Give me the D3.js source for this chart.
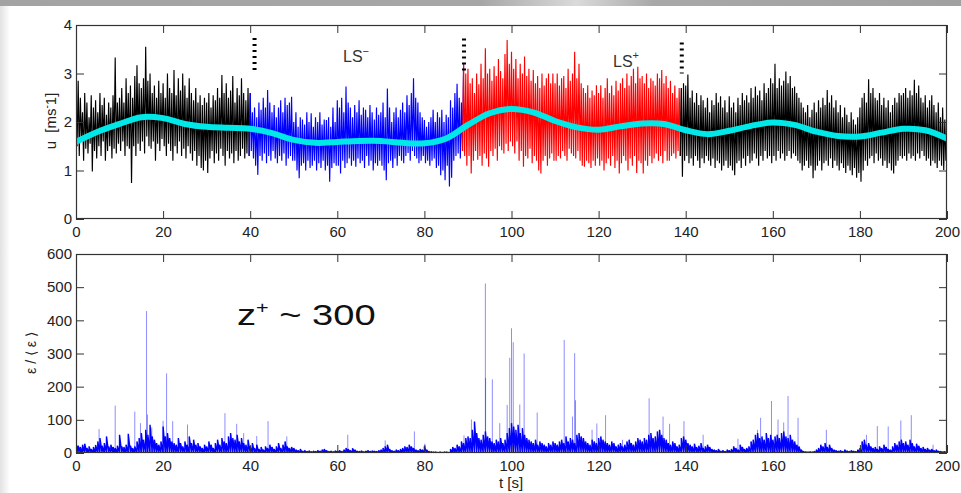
<!DOCTYPE html>
<html><head><meta charset="utf-8">
<script src="https://cdn.jsdelivr.net/npm/d3@7"></script>
<style>html,body{margin:0;padding:0;background:#fff;} svg{display:block;}</style>
</head><body>
<script>
// ---------------- data ----------------
const xTicks = [0,20,40,60,80,100,120,140,160,180,200];
const uTicks = [0,1,2,3,4];
const epsTicks = [0,100,200,300,400,500,600];
const sampleStep = 0.5; // seconds between samples of the envelope arrays

// local maxima of u every 0.5 s (t = 0 ... 199.5)
const uHigh = [
2.3,2.85,2.5,2.2,2.6,2.4,2.1,2.55,2.3,2.45,2.2,2.6,2.35,2.5,2.15,2.4,2.3,2.55,3.33,2.4,
2.5,2.7,2.4,2.9,2.6,2.75,2.5,2.95,3.17,2.8,2.7,2.9,3.55,2.85,3.0,2.6,2.75,2.5,2.85,2.6,
2.8,2.5,3.0,2.7,2.6,3.07,2.55,2.9,2.65,3.0,2.75,2.5,2.9,2.6,2.45,2.7,2.4,2.55,2.35,2.5,
2.4,2.6,2.3,2.55,2.45,2.7,2.5,2.97,2.6,2.8,2.5,2.65,2.95,2.4,2.7,2.55,2.9,2.6,2.45,2.7,
2.6,2.2,2.3,2.1,2.4,2.25,2.5,2.3,2.66,2.4,2.2,2.35,2.1,2.3,2.45,2.2,2.5,2.35,2.4,2.52,
2.0,2.2,1.9,2.1,2.05,1.95,2.2,2.0,2.18,1.9,2.1,2.0,2.2,1.95,2.05,2.04,2.1,1.9,2.3,2.0,
2.45,2.3,2.5,2.2,2.73,2.4,2.3,2.1,2.35,2.2,2.45,2.15,2.3,2.25,2.1,2.35,2.2,2.05,2.3,2.15,
2.2,2.4,2.1,2.69,2.3,2.0,2.2,2.3,2.1,2.25,2.4,2.2,2.55,2.35,2.6,2.9,2.5,2.4,2.2,2.1,
2.04,1.9,2.0,2.1,2.25,2.0,2.2,2.1,2.25,2.0,2.15,2.1,2.45,2.3,2.6,2.79,2.5,2.4,3.2,3.0,
3.1,2.8,2.9,2.6,3.0,2.78,3.2,2.9,3.52,3.0,3.1,2.85,3.15,2.95,3.3,3.05,2.9,3.4,3.69,3.2,
3.45,3.1,3.3,2.9,3.2,3.0,3.35,2.95,3.1,2.85,3.07,2.8,2.95,2.7,3.0,2.75,2.9,3.0,2.8,3.0,
2.8,3.0,2.75,2.9,2.95,2.7,3.1,2.85,3.0,3.45,2.9,3.2,2.8,2.7,2.6,2.76,2.5,2.65,2.55,2.76,
2.6,2.76,2.5,2.7,2.9,2.6,2.75,2.55,2.85,2.65,2.8,2.9,2.7,3.0,2.75,2.95,3.1,2.8,3.14,2.9,
2.95,2.8,3.0,2.7,2.9,2.85,2.75,3.0,2.9,3.07,2.8,2.95,2.7,2.85,2.6,2.75,2.5,2.7,2.7,2.8,
2.75,2.98,2.5,2.65,2.4,2.6,2.35,2.55,2.45,2.3,2.5,2.2,2.45,2.35,2.6,2.4,2.53,2.3,2.45,2.2,
2.53,2.3,2.4,2.2,2.5,2.35,2.6,2.45,2.55,2.4,2.7,2.5,2.73,2.55,2.65,2.45,2.8,2.6,2.7,2.9,
2.8,3.2,2.7,2.9,2.75,2.85,3.04,2.8,2.95,2.7,2.73,2.6,2.5,2.4,2.3,2.2,2.35,2.1,2.25,2.4,
2.2,2.45,2.3,2.5,2.35,2.66,2.4,2.55,2.3,2.45,2.2,2.35,2.1,2.3,2.15,2.0,2.2,2.05,1.95,2.1,
2.3,2.5,2.6,2.4,2.88,2.6,2.7,2.5,2.45,2.6,2.35,2.5,2.3,2.45,2.2,2.35,2.5,2.4,2.6,2.55,
2.6,2.7,2.5,2.65,2.55,2.87,2.6,2.75,2.5,2.4,2.55,2.3,2.45,2.55,2.35,2.2,2.4,2.1,2.3,2.05
];
// local minima of u, 0.25 s after each maximum
const uLow = [
1.5,1.3,1.6,1.2,1.45,1.35,1.55,0.98,1.4,1.25,1.5,1.3,1.6,1.2,1.4,1.5,1.25,1.45,1.35,1.55,
1.4,1.6,1.3,1.5,1.45,0.74,1.5,1.3,1.55,1.4,1.6,1.35,1.7,1.5,1.45,1.6,1.2,1.55,1.4,1.65,
1.5,1.3,1.55,1.4,1.2,1.5,1.35,1.6,1.3,1.45,1.25,1.5,1.35,1.2,1.4,1.1,1.3,1.05,1.0,1.2,
0.95,1.25,1.4,1.15,1.35,1.2,1.45,1.3,1.1,1.4,1.25,1.35,1.15,1.4,1.2,1.3,1.45,1.25,1.35,1.3,
1.4,1.25,1.1,0.91,1.3,1.2,1.35,1.15,1.3,1.2,1.4,1.25,1.15,1.3,1.2,1.35,1.1,1.25,1.3,1.2,
1.2,1.0,0.84,1.1,1.15,1.0,1.2,1.05,1.1,1.2,1.0,1.15,1.05,1.2,1.0,1.1,0.77,1.05,1.15,1.1,
1.1,0.94,1.2,1.05,1.15,1.25,1.1,1.2,1.08,1.25,1.15,1.2,1.05,1.3,1.1,1.2,1.0,1.15,1.1,1.2,
1.1,1.0,0.8,1.15,1.2,1.05,1.25,1.1,1.3,1.2,1.15,1.3,1.36,1.2,1.4,1.3,1.25,1.15,1.2,1.3,
1.15,1.2,1.1,1.2,1.25,1.05,1.1,0.9,1.0,0.8,1.1,0.67,0.85,1.2,1.3,1.35,1.25,1.4,1.3,1.1,
1.3,0.94,1.2,1.4,1.22,1.3,1.1,1.35,1.25,1.08,1.4,1.3,1.45,1.2,1.5,1.42,1.35,1.55,1.4,1.6,
1.5,1.35,1.6,1.2,1.4,1.08,1.3,1.25,1.45,1.15,1.3,1.2,1.0,0.94,1.2,1.3,1.1,1.25,1.35,1.2,
1.2,1.3,1.25,1.4,1.3,1.2,1.45,1.35,1.3,1.25,1.4,1.2,1.1,1.08,1.2,1.15,1.05,1.2,1.1,1.25,
1.1,1.2,1.0,1.15,1.25,1.1,1.3,1.05,1.2,0.94,1.15,1.3,1.2,1.0,1.25,1.1,1.3,0.95,1.2,1.15,
0.94,1.2,1.1,1.3,1.15,1.25,1.35,1.2,1.3,1.15,1.4,1.2,1.2,1.3,1.35,1.25,1.4,1.3,0.87,1.2,
1.3,1.15,1.25,1.1,1.3,1.2,1.05,1.25,1.15,1.3,1.2,1.1,1.25,1.05,1.2,1.15,1.0,1.1,1.2,1.05,
1.1,1.0,0.9,1.15,1.2,1.05,1.25,1.1,1.3,1.15,1.2,1.35,1.25,1.1,1.3,1.2,1.4,1.25,1.3,1.15,
1.3,1.2,1.4,1.25,1.35,1.2,1.3,1.4,1.25,1.35,1.3,1.2,1.15,1.0,1.1,1.2,1.05,1.1,0.84,1.0,
1.1,1.2,1.0,1.15,1.2,1.1,1.25,1.05,1.2,1.1,1.0,1.15,1.05,0.95,1.1,1.0,0.9,1.05,0.85,0.95,
0.77,1.0,1.2,1.1,1.25,1.3,1.15,1.35,1.2,1.25,1.1,1.2,1.05,1.15,1.0,0.94,1.1,1.2,1.3,1.25,
1.3,1.2,1.35,1.25,1.3,1.2,1.35,1.25,1.4,1.3,1.2,1.25,1.1,1.2,1.15,1.05,1.2,1.1,1.01,1.2
];

// smooth large-scale trend (cyan)
const trendT = [0,5,10,15,20,25,30,35,40,45,50,55,60,65,70,75,80,85,90,95,100,105,110,115,120,125,130,135,140,145,150,155,160,165,170,175,180,185,190,195,200];
const trendU = [1.59,1.80,1.96,2.10,2.08,1.96,1.90,1.88,1.86,1.77,1.63,1.57,1.59,1.61,1.61,1.57,1.56,1.66,1.94,2.18,2.27,2.2,2.02,1.89,1.84,1.91,1.97,1.96,1.83,1.75,1.82,1.92,1.99,1.94,1.80,1.71,1.70,1.78,1.86,1.83,1.66];

// colour segments of the u signal
const segBreaks = [0,40,89,139,200];
const segColors = ["#000000","#0000ff","#ff0000","#000000"];

// dashed boundary markers
const markerT = [41.0,89.1,139.1];
const markerTop = [3.73,3.72,3.64];
const markerBottom = [3.06,3.06,3.0];

// dissipation background every 0.5 s
const epsBase = [
30,22,18,25,28,15,20,12,18,24,35,45,22,30,50,20,25,18,15,22,
55,20,18,25,58,22,15,20,35,45,60,40,70,55,85,50,40,30,25,35,
80,50,60,45,35,30,25,45,30,20,35,25,50,30,40,25,30,20,15,25,
20,35,25,15,30,40,25,45,35,30,50,60,45,40,55,35,45,30,25,40,
20,30,15,25,12,18,10,20,15,25,18,12,20,30,15,25,35,20,15,18,
15,10,8,12,6,8,5,7,4,6,5,8,6,10,12,8,5,6,4,7,
6,8,5,10,15,12,8,14,10,6,5,7,4,6,8,5,7,6,5,8,
10,15,20,25,12,8,6,10,8,12,15,20,18,25,20,15,10,8,12,10,
20,10,5,4,3,3,2,3,2,3,3,2,12,18,15,25,20,35,30,45,
50,45,70,95,60,45,40,55,65,50,45,35,30,40,35,45,30,40,60,75,
90,80,70,85,60,75,55,45,40,35,30,40,25,35,30,25,20,30,25,35,
30,25,35,40,30,50,35,45,40,30,55,60,50,45,35,30,25,40,35,30,
45,50,40,35,30,25,35,30,20,25,30,20,25,35,40,30,25,35,45,40,
35,45,40,55,60,45,50,65,70,55,45,40,30,25,35,30,20,25,45,50,
40,30,25,20,28,18,22,30,15,20,25,18,12,10,8,12,6,8,5,10,
8,12,20,15,10,25,18,12,15,20,35,40,55,60,45,50,40,60,45,55,
40,50,55,45,60,65,50,45,55,40,35,25,20,10,5,4,3,4,3,5,
10,15,25,20,30,18,25,15,10,8,6,8,5,10,7,5,8,6,5,10,
15,35,40,25,30,20,15,18,12,20,15,25,18,12,10,20,30,25,35,40,
30,35,25,40,30,20,28,22,15,18,12,15,10,12,8,10,6,5,4,6
];
// isolated tall dissipation spikes
const spikeT = [0.1,5.3,9.0,13.5,14.8,16.2,16.4,17.4,20.0,20.8,22.2,25.6,34.2,36.9,38.5,41.5,44.1,48.4,62.4,71.0,77.7,80.1,89.1,90.8,94.0,94.05,95.6,97.3,99.0,99.6,100.0,100.4,101.9,102.9,105.9,112.1,114.0,114.5,114.7,118.5,119.6,121.6,125.5,131.6,134.8,136.3,139.6,144.0,152.0,156.5,157.2,159.7,161.2,162.5,163.5,165.8,172.3,181.5,184.0,186.5,189.4,191.8,196.8];
const spikeV = [56,72,143,125,90,428,116,77,97,240,96,86,120,88,60,51,96,50,55,38,65,28,53,101,511,226,222,90,145,287,376,334,146,300,122,341,110,301,159,70,89,114,40,165,110,88,96,55,43,70,106,157,101,92,172,106,70,55,81,80,98,114,25];

// ---------------- drawing ----------------
const W = 961, H = 493;
const FONT = "'Liberation Sans', Arial, Helvetica, sans-serif";
const svg = d3.select("body").append("svg").attr("width", W).attr("height", H)
  .style("font-family", FONT);

const defs = svg.append("defs");
const gTop = defs.append("linearGradient").attr("id","bandGrad");
[[0,"#a3a3a3"],[0.5,"#a6a6a6"],[0.6,"#dadada"],[0.68,"#a8a8a8"],[1,"#a0a0a0"]]
  .forEach(([o,c]) => gTop.append("stop").attr("offset", o).attr("stop-color", c));
const gLeft = defs.append("linearGradient").attr("id","leftGrad");
[[0,"#e2e2e2"],[1,"#ffffff"]].forEach(([o,c]) => gLeft.append("stop").attr("offset", o).attr("stop-color", c));

svg.append("rect").attr("width", W).attr("height", H).attr("fill", "#fff");
svg.append("rect").attr("x",0).attr("y",6).attr("width",10).attr("height",H-6).attr("fill","url(#leftGrad)");
svg.append("rect").attr("x",0).attr("y",0).attr("width",W).attr("height",6).attr("fill","url(#bandGrad)");

const L = 76, R = 947;
const top1 = 25, bot1 = 219, top2 = 254, bot2 = 453;
const x = d3.scaleLinear().domain([0,200]).range([L,R]);
const yU = d3.scaleLinear().domain([0,4]).range([bot1,top1]);
const yE = d3.scaleLinear().domain([0,600]).range([bot2,top2]);

defs.append("clipPath").attr("id","clip1").append("rect").attr("x",L).attr("y",top1).attr("width",R-L).attr("height",bot1-top1);
defs.append("clipPath").attr("id","clip2").append("rect").attr("x",L).attr("y",top2).attr("width",R-L).attr("height",bot2-top2);

// ---- top panel: velocity signal ----
const p1 = svg.append("g").attr("clip-path","url(#clip1)");
const pts = uHigh.flatMap((h,i) => [[i*sampleStep, h],[i*sampleStep + sampleStep/2, uLow[i]]]);
const lineU = d3.line().x(d => x(d[0])).y(d => yU(d[1]));
for (let k = 0; k < segColors.length; k++) {
  const a = segBreaks[k], b = segBreaks[k+1];
  const seg = pts.filter(p => p[0] >= a - 0.25 && p[0] <= b);
  p1.append("path").attr("d", lineU(seg)).attr("fill","none")
    .attr("stroke", segColors[k]).attr("stroke-width", 1.15).attr("stroke-linejoin","bevel");
}
const trendLine = d3.line().x((d,i) => x(trendT[i])).y(d => yU(d)).curve(d3.curveCatmullRom.alpha(0.5));
p1.append("path").attr("d", trendLine(trendU)).attr("fill","none")
  .attr("stroke","#00e8e8").attr("stroke-width",6).attr("stroke-linecap","round");

// dashed markers
svg.append("g").selectAll("line").data(markerT).join("line")
  .attr("x1", d => x(d)).attr("x2", d => x(d))
  .attr("y1", (d,i) => yU(markerTop[i])).attr("y2", (d,i) => yU(markerBottom[i]))
  .attr("stroke","#000").attr("stroke-width",4).attr("stroke-dasharray","2,4");

// labels LS- / LS+
const ls1 = svg.append("text").attr("x",343).attr("y",62).attr("font-size",16).attr("fill","#333");
ls1.append("tspan").text("LS");
ls1.append("tspan").attr("font-size",11).attr("dy",-7).text("\u2212");
const ls2 = svg.append("text").attr("x",613).attr("y",67).attr("font-size",16).attr("fill","#333");
ls2.append("tspan").text("LS");
ls2.append("tspan").attr("font-size",11).attr("dy",-8).text("+");

// ---- bottom panel: dissipation ----
const p2 = svg.append("g").attr("clip-path","url(#clip2)");
const basePts = epsBase.flatMap((b,i) => [[i*sampleStep, 0],[i*sampleStep, b]]);
const lineE = d3.line().x(d => x(d[0])).y(d => yE(d[1]));
p2.selectAll("line.spike").data(spikeT).join("line").attr("class","spike")
  .attr("x1", d => x(d)).attr("x2", d => x(d))
  .attr("y1", yE(0)).attr("y2", (d,i) => yE(spikeV[i]))
  .attr("stroke","#0000ff").attr("stroke-opacity",0.45).attr("stroke-width",1);
p2.append("path").attr("d", lineE(basePts)).attr("fill","none")
  .attr("stroke","#0000ff").attr("stroke-width",1.4).attr("stroke-linejoin","bevel");

// z+ annotation
const zg = svg.append("g").attr("transform","translate(237,325) scale(1.27,1)");
const zt = zg.append("text").attr("x",0).attr("y",0).attr("font-size",30).attr("fill","#111");
zt.append("tspan").text("z");
zt.append("tspan").attr("font-size",17).attr("dy",-12).text("+");
zt.append("tspan").attr("dy",12).text("\u00a0~ 300");

// ---- axes & boxes ----
function styleAxis(g) {
  g.attr("font-size",15).attr("font-family",FONT).attr("color","#333");
  g.select(".domain").remove();
  g.selectAll(".tick text").attr("fill","#222");
}
function panel(yScale, yTicks, top, bot) {
  svg.append("g").attr("transform",`translate(0,${bot})`)
    .call(d3.axisBottom(x).tickValues(xTicks).tickSize(-8).tickPadding(7).tickFormat(d3.format("d")))
    .call(styleAxis);
  svg.append("g").attr("transform",`translate(0,${top})`)
    .call(d3.axisTop(x).tickValues(xTicks).tickSize(-8).tickFormat(""))
    .call(styleAxis);
  svg.append("g").attr("transform",`translate(${L},0)`)
    .call(d3.axisLeft(yScale).tickValues(yTicks).tickSize(-8).tickPadding(4).tickFormat(d3.format("d")))
    .call(styleAxis);
  svg.append("g").attr("transform",`translate(${R},0)`)
    .call(d3.axisRight(yScale).tickValues(yTicks).tickSize(-8).tickFormat(""))
    .call(styleAxis);
  svg.append("rect").attr("x",L+0.5).attr("y",top+0.5).attr("width",R-L-1).attr("height",bot-top-1)
    .attr("fill","none").attr("stroke","#333").attr("stroke-width",1.2);
}
panel(yU, uTicks, top1, bot1);
panel(yE, epsTicks, top2, bot2);

// axis titles
const yl1 = svg.append("text").attr("transform","translate(56,121) rotate(-90)")
  .attr("text-anchor","middle").attr("font-size",15).attr("fill","#222");
yl1.append("tspan").text("u\u00a0\u00a0[ms");
yl1.append("tspan").attr("font-size",10).attr("dy",-6).text("-");
yl1.append("tspan").attr("dy",6).text("1]");

svg.append("text").attr("transform","translate(36,353) rotate(-90)")
  .attr("text-anchor","middle").attr("font-size",14).attr("fill","#222")
  .text("\u03b5 / \u27e8 \u03b5 \u27e9");

svg.append("text").attr("x",511).attr("y",488).attr("text-anchor","middle")
  .attr("font-size",15).attr("fill","#222").text("t [s]");
</script>
</body></html>
